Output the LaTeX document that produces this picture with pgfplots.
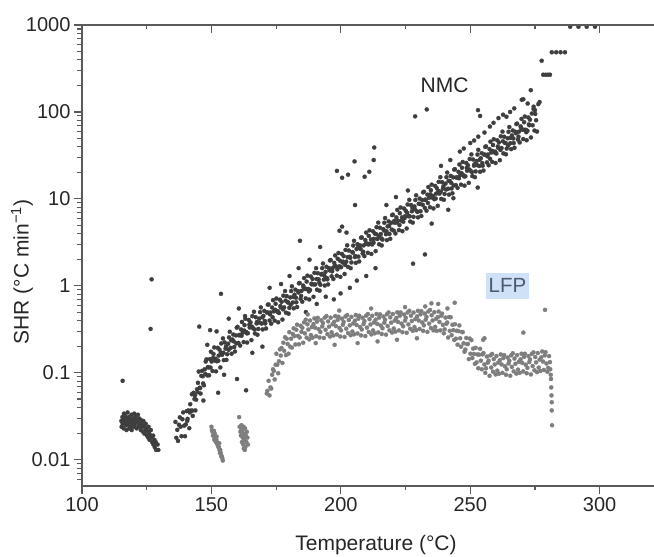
\documentclass[border=0pt]{standalone}
\usepackage{fontspec}
\setmainfont{Liberation Sans}
\usepackage{pgfplots}
\pgfplotsset{compat=1.18}
\definecolor{nmc}{HTML}{3E3E3E}
\definecolor{lfp}{HTML}{7E7E7E}
\definecolor{axisgray}{HTML}{5A5A5A}
\definecolor{txt}{HTML}{262626}
\definecolor{lfpbg}{HTML}{CFE1F7}
\definecolor{lfptxt}{HTML}{4C5A6E}
\begin{document}
\begin{tikzpicture}
\begin{axis}[
  scale only axis, width=572pt, height=461pt,
  xmin=100, xmax=321, ymin=0.005, ymax=1000, ymode=log,
  axis x line*=bottom, axis y line*=left,
  axis line style={draw=axisgray, line width=1.3pt},
  tick align=outside,
  tick style={axisgray, line width=1.1pt},
  major tick length=8pt, minor tick length=4.5pt,
  xtick={100,150,200,250,300}, xticklabels={100,150,200,250,300},
  minor xtick={125,175,225,275},
  ytick={0.01,0.1,1,10,100,1000}, yticklabels={0.01,0.1,1,10,100,1000},
  minor ytick={0.006,0.007,0.008,0.009,0.02,0.03,0.04,0.05,0.06,0.07,0.08,0.09,0.2,0.3,0.4,0.5,0.6,0.7,0.8,0.9,2,3,4,5,6,7,8,9,20,30,40,50,60,70,80,90,200,300,400,500,600,700,800,900},
  /pgf/number format/assume math mode=true,
  tick label style={font=\fontsize{20}{24}\selectfont, text=txt},
  xlabel={Temperature (°C)},
  ylabel={SHR (°C min\textsuperscript{−1})},
  label style={font=\fontsize{21}{25}\selectfont, text=txt},
  xlabel style={at={(axis description cs:0,0)}, anchor=center, xshift=294pt, yshift=-59pt},
  ylabel style={at={(axis description cs:0,0.5)}, anchor=center, xshift=-16.5pt, yshift=60pt},
  clip=true,
]
\coordinate (bl) at (rel axis cs:0,0);
\coordinate (tr) at (rel axis cs:1,1);
% NMC
\addplot[only marks, mark=*, mark size=2.1pt, color=nmc, mark options={line width=0.2pt}] coordinates {
(115.2,0.028) (115.3,0.024) (115.6,0.031) (115.7,0.026) (116.0,0.029) (116.1,0.023) (116.2,0.034) (116.5,0.027) (116.6,0.032) (117.0,0.025) (117.1,0.030) (117.2,0.022) (117.5,0.028) (117.6,0.035) (118.0,0.026) (118.1,0.031) (118.2,0.023) (118.5,0.029) (118.6,0.024) (119.0,0.027) (119.1,0.033) (119.2,0.022) (119.5,0.030) (119.6,0.025) (120.0,0.028) (120.1,0.024) (120.2,0.034) (120.5,0.026) (120.6,0.031) (121.0,0.029) (121.1,0.023) (121.5,0.027) (121.6,0.033) (121.7,0.024) (122.0,0.030) (122.1,0.025) (122.5,0.026) (122.6,0.029) (122.7,0.022) (123.0,0.027) (123.1,0.024) (123.5,0.025) (123.6,0.021) (123.7,0.028) (124.0,0.024) (124.1,0.020) (124.5,0.022) (124.6,0.026) (125.0,0.023) (125.1,0.019) (125.5,0.021) (125.6,0.018) (125.7,0.024) (126.0,0.020) (126.1,0.017) (126.5,0.019) (126.6,0.022) (127.0,0.018) (127.1,0.016) (127.5,0.019) (127.6,0.015) (128.0,0.017) (128.1,0.014) (128.5,0.016) (128.6,0.013) (129.2,0.015) (129.5,0.013)
(136.1,0.0273) (136.45,0.0179) (136.8,0.0221)
(137.1,0.0165) (137.45,0.0253) (137.8,0.0308)
(138.1,0.024) (138.45,0.0187) (138.8,0.0293)
(139.1,0.0351) (139.45,0.0247) (139.8,0.0187)
(140.1,0.0255) (140.45,0.0363) (140.8,0.0296)
(141.1,0.037) (141.45,0.0231) (141.8,0.0436)
(142.1,0.0368) (142.45,0.0568) (142.8,0.032)
(143.1,0.059) (143.45,0.050) (143.8,0.037)
(144.1,0.0492) (144.45,0.0648) (144.8,0.0768)
(145.1,0.1035) (145.45,0.0675) (145.8,0.0578)
(146.1,0.0924) (146.45,0.1056) (146.8,0.0757)
(147.1,0.072) (147.45,0.110) (147.8,0.135)
(148.1,0.143) (148.45,0.0935) (148.8,0.1155)
(149.1,0.0938) (149.45,0.144) (149.8,0.175)
(150.1,0.135) (150.45,0.105) (150.8,0.165)
(151.1,0.196) (151.45,0.138) (151.8,0.104)
(152.1,0.136) (152.45,0.194) (152.8,0.158)
(153.1,0.185) (153.45,0.1155) (153.8,0.218)
(154.1,0.161) (154.45,0.249) (154.8,0.14)
(155.1,0.224) (155.45,0.19) (155.8,0.141)
(156.1,0.164) (156.45,0.216) (156.8,0.256)
(157.1,0.297) (157.45,0.194) (157.8,0.166)
(158.1,0.242) (158.45,0.276) (158.8,0.198)
(159.1,0.176) (159.45,0.27) (159.8,0.331)
(160.1,0.338) (160.45,0.221) (160.8,0.273)
(161.1,0.206) (161.45,0.316) (161.8,0.385)
(162.1,0.29) (162.45,0.226) (162.8,0.354)
(163.1,0.419) (163.45,0.295) (163.8,0.223)
(164.1,0.286) (164.45,0.406) (164.8,0.332)
(165.1,0.381) (165.45,0.238) (165.8,0.449)
(166.1,0.327) (166.45,0.504) (166.8,0.284)
(167.1,0.437) (167.45,0.37) (167.8,0.274)
(168.1,0.32) (168.45,0.421) (168.8,0.499)
(169.1,0.566) (169.45,0.369) (169.8,0.316)
(170.1,0.452) (170.45,0.516) (170.8,0.370)
(171.1,0.324) (171.45,0.495) (171.8,0.608)
(172.1,0.611) (172.45,0.40) (172.8,0.494)
(173.1,0.368) (173.45,0.564) (173.8,0.686)
(174.1,0.51) (174.45,0.398) (174.8,0.622)
(175.1,0.716) (175.45,0.504) (175.8,0.382)
(176.1,0.488) (176.45,0.694) (176.8,0.566)
(177.1,0.655) (177.45,0.41) (177.8,0.772)
(178.1,0.566) (178.45,0.873) (178.8,0.492)
(179.1,0.763) (179.45,0.647) (179.8,0.479)
(180.1,0.559) (180.45,0.737) (180.8,0.873)
(181.1,0.989) (181.45,0.645) (181.8,0.552)
(182.1,0.792) (182.45,0.905) (182.8,0.648)
(183.1,0.571) (183.45,0.872) (183.8,1.07)
(184.1,1.08) (184.45,0.709) (184.8,0.876)
(185.1,0.658) (185.45,1.01) (185.8,1.23)
(186.1,0.922) (186.45,0.719) (186.8,1.12)
(187.1,1.31) (187.45,0.922) (187.8,0.698)
(188.1,0.898) (188.45,1.28) (188.8,1.04)
(189.1,1.20) (189.45,0.749) (189.8,1.41)
(190.1,1.04) (190.45,1.60) (190.8,0.904)
(191.1,1.40) (191.45,1.19) (191.8,0.881)
(192.1,1.03) (192.45,1.35) (192.8,1.60)
(193.1,1.81) (193.45,1.18) (193.8,1.01)
(194.1,1.45) (194.45,1.66) (194.8,1.19)
(195.1,1.04) (195.45,1.60) (195.8,1.96)
(196.1,1.98) (196.45,1.29) (196.8,1.60)
(197.1,1.20) (197.45,1.84) (197.8,2.24)
(198.1,1.68) (198.45,1.31) (198.8,2.05)
(199.1,2.39) (199.45,1.68) (199.8,1.27)
(200.1,1.64) (200.45,2.33) (200.8,1.90)
(201.1,2.20) (201.45,1.37) (201.8,2.59)
(202.1,1.90) (202.45,2.93) (202.8,1.65)
(203.1,2.55) (203.45,2.16) (203.8,1.60)
(204.1,1.86) (204.45,2.45) (204.8,2.91)
(205.1,3.30) (205.45,2.15) (205.8,1.84)
(206.1,2.65) (206.45,3.02) (206.8,2.17)
(207.1,1.91) (207.45,2.92) (207.8,3.58)
(208.1,3.61) (208.45,2.36) (208.8,2.92)
(209.1,2.20) (209.45,3.37) (209.8,4.10)
(210.1,3.08) (210.45,2.40) (210.8,3.76)
(211.1,4.36) (211.45,3.07) (211.8,2.33)
(212.1,2.99) (212.45,4.25) (212.8,3.47)
(213.1,4.01) (213.45,2.51) (213.8,4.73)
(214.1,3.46) (214.45,5.34) (214.8,3.01)
(215.1,4.66) (215.45,3.95) (215.8,2.92)
(216.1,3.41) (216.45,4.49) (216.8,5.32)
(217.1,6.03) (217.45,3.93) (217.8,3.36)
(218.1,4.83) (218.45,5.52) (218.8,3.96)
(219.1,3.48) (219.45,5.31) (219.8,6.52)
(220.1,6.60) (220.45,4.32) (220.8,5.33)
(221.1,4.01) (221.45,6.14) (221.8,7.48)
(222.1,5.62) (222.45,4.38) (222.8,6.86)
(223.1,7.98) (223.45,5.61) (223.8,4.26)
(224.1,5.46) (224.45,7.76) (224.8,6.33)
(225.1,7.31) (225.45,4.57) (225.8,8.62)
(226.1,6.32) (226.45,9.76) (226.8,5.50)
(227.1,8.52) (227.45,7.22) (227.8,5.34)
(228.1,6.22) (228.45,8.20) (228.8,9.72)
(229.1,11.0) (229.45,7.18) (229.8,6.14)
(230.1,8.81) (230.45,10.1) (230.8,7.22)
(231.1,6.36) (231.45,9.71) (231.8,11.9)
(232.1,12.1) (232.45,7.89) (232.8,9.74)
(233.1,7.32) (233.45,11.2) (233.8,13.7)
(234.1,10.3) (234.45,8.03) (234.8,12.6)
(235.1,14.6) (235.45,10.3) (235.8,7.78)
(236.1,9.94) (236.45,14.1) (236.8,11.5)
(237.1,13.3) (237.45,8.33) (237.8,15.7)
(238.1,11.5) (238.45,17.8) (238.8,10.0)
(239.1,15.6) (239.45,13.2) (239.8,9.77)
(240.1,11.4) (240.45,15.0) (240.8,17.8)
(241.1,20.1) (241.45,13.1) (241.8,11.2)
(242.1,16.1) (242.45,18.4) (242.8,13.2)
(243.1,11.6) (243.45,17.7) (243.8,21.7)
(244.1,22.0) (244.45,14.4) (244.8,17.7)
(245.1,13.4) (245.45,20.5) (245.8,24.9)
(246.1,18.7) (246.45,14.6) (246.8,22.8)
(247.1,26.6) (247.45,18.7) (247.8,14.2)
(248.1,18.2) (248.45,25.9) (248.8,21.1)
(249.1,24.4) (249.45,15.3) (249.8,28.8)
(250.1,21.1) (250.45,32.5) (250.8,18.3)
(251.1,28.4) (251.45,24.1) (251.8,17.8)
(252.1,20.7) (252.45,27.3) (252.8,32.4)
(253.1,36.7) (253.45,23.9) (253.8,20.5)
(254.1,29.4) (254.45,33.6) (254.8,24.1)
(255.1,21.2) (255.45,32.3) (255.8,39.7)
(256.1,40.2) (256.45,26.3) (256.8,32.4)
(257.1,24.4) (257.45,37.4) (257.8,45.5)
(258.1,34.2) (258.45,26.7) (258.8,41.7)
(259.1,48.6) (259.45,34.2) (259.8,25.9)
(260.1,33.3) (260.45,47.3) (260.8,38.6)
(261.1,44.6) (261.45,27.9) (261.8,52.5)
(262.1,38.5) (262.45,59.4) (262.8,33.4)
(263.1,51.9) (263.45,44.0) (263.8,32.6)
(264.1,37.9) (264.45,49.9) (264.8,59.1)
(265.1,67.1) (265.45,43.7) (265.8,37.4)
(266.1,53.7) (266.45,61.3) (266.8,43.9)
(267.1,38.7) (267.45,59.2) (267.8,72.6)
(268.1,73.5) (268.45,48.0) (268.8,59.3)
(269.1,44.6) (269.45,68.3) (269.8,83.2)
(270.1,62.5) (270.45,48.8) (270.8,76.3)
(271.1,88.7) (271.45,62.4) (271.8,47.3)
(272.1,60.8) (272.45,86.4) (272.8,70.5)
(273.1,81.4) (273.45,50.9) (273.8,96.0)
(274.1,70.3) (274.45,108) (274.8,61.1)
(275.1,94.9) (275.45,80.4) (275.8,59.5)
(140.65,0.0281) (141.65,0.035) (142.65,0.0368) (143.65,0.055) (144.65,0.060) (145.65,0.0668) (146.65,0.0915) (147.65,0.097) (148.65,0.1166) (149.65,0.115)
(150.65,0.1485) (151.65,0.145) (152.65,0.138) (153.65,0.1716) (154.65,0.170) (155.65,0.201) (156.65,0.184) (157.65,0.2365) (158.65,0.23) (159.65,0.218)
(160.65,0.270) (161.65,0.267) (162.65,0.307) (163.65,0.285) (164.65,0.358) (165.65,0.34) (166.65,0.316) (167.65,0.385) (168.65,0.378) (169.65,0.435)
(170.65,0.396) (171.65,0.495) (172.65,0.47) (173.65,0.436) (174.65,0.530) (175.65,0.514) (176.65,0.588) (177.65,0.538) (178.65,0.677) (179.65,0.647)
(180.65,0.607) (181.65,0.746) (182.65,0.731) (183.65,0.841) (184.65,0.767) (185.65,0.965) (186.65,0.922) (187.65,0.863) (188.65,1.06) (189.65,1.04)
(190.65,1.20) (191.65,1.09) (192.65,1.375) (193.65,1.31) (194.65,1.23) (195.65,1.51) (196.65,1.47) (197.65,1.70) (198.65,1.55) (199.65,1.95)
(200.65,1.86) (201.65,1.74) (202.65,2.14) (203.65,2.10) (204.65,2.41) (205.65,2.20) (206.65,2.77) (207.65,2.65) (208.65,2.47) (209.65,3.05)
(210.65,2.99) (211.65,3.42) (212.65,3.13) (213.65,3.94) (214.65,3.76) (215.65,3.52) (216.65,4.33) (217.65,4.24) (218.65,4.88) (219.65,4.44)
(220.65,5.59) (221.65,5.34) (222.65,5.00) (223.65,6.15) (224.65,6.02) (225.65,6.92) (226.65,6.32) (227.65,7.94) (228.65,7.59) (229.65,7.10)
(230.65,8.73) (231.65,8.57) (232.65,9.84) (233.65,8.98) (234.65,11.3) (235.65,10.8) (236.65,10.1) (237.65,12.4) (238.65,12.1) (239.65,14.0)
(240.65,12.8) (241.65,16.1) (242.65,15.3) (243.65,14.3) (244.65,17.6) (245.65,17.3) (246.65,19.8) (247.65,18.1) (248.65,22.8) (249.65,21.8)
(250.65,20.4) (251.65,25.1) (252.65,24.5) (253.65,28.2) (254.65,25.8) (255.65,32.3) (256.65,30.9) (257.65,28.9) (258.65,35.6) (259.65,34.9)
(260.65,40.1) (261.65,36.6) (262.65,46.0) (263.65,44.0) (264.65,41.1) (265.65,50.5) (266.65,49.6) (267.65,57.0) (268.65,52.0) (269.65,65.3)
(270.65,62.5) (271.65,58.5) (272.65,71.9)
(186.5,0.50) (190.7,0.62) (194.2,0.75) (197.3,0.70) (199.9,0.82) (203.5,0.95) (206.2,1.15) (209.8,1.3) (213.4,1.6)
(172.5,0.95) (176.9,1.05) (180.2,1.3) (183.7,1.6) (187.9,2.0) (217.6,8.5) (221.3,10.5) (225.9,12.5) (238.7,24) (242.3,28)
(241.5,7.5) (252.9,13.5) (160.6,0.55) (156.7,0.42) (148.4,0.21) (146.9,0.048) (154.9,0.095) (165.8,0.17) (169.7,0.2)
(115.7,0.081) (126.9,1.19) (126.5,0.32) (153.7,0.81) (145.3,0.34) (149.5,0.31) (152.0,0.30) (163.4,0.063) (159.9,0.085) (152.6,0.059) (163.0,0.45)
(184.2,3.3) (192.0,2.8) (199.5,4.3) (200.5,4.8) (202.2,4.1) (205.5,8.5) (198.5,21) (200.5,17.5) (202.8,19) (205.3,27) (209.2,18) (211.0,20.5) (212.7,28) (212.9,39)
(228.7,89) (233.2,107) (227.9,1.8) (232.5,2.3) (235.1,5.2) (243.5,10.2)
(246.0,35) (247.5,38) (250.0,44) (251.5,47) (253.1,52) (253.0,105) (253.8,90) (255.5,58) (257.6,68) (259.0,75) (260.9,85) (262.7,93) (264.0,88) (265.4,100) (267.0,110)
(269.9,138) (270.5,140) (273.4,178) (272.2,125) (275.0,105) (276.3,123) (276.8,130) (274.5,115) (277.6,388)
(278.2,268) (279.1,268) (280.0,268) (280.8,268) (281.5,486) (283.2,486) (284.9,486) (286.6,486) (288.6,955) (291.8,955) (295.0,955) (298.2,955)
};
% LFP
\addplot[only marks, mark=*, mark size=2.1pt, color=lfp, mark options={line width=0.2pt}] coordinates {
(150.0,0.024) (150.2,0.022) (150.4,0.021) (150.6,0.019) (150.9,0.019) (151.1,0.017) (151.3,0.020) (151.5,0.018) (151.7,0.016) (151.9,0.017) (152.1,0.016) (152.3,0.015) (152.5,0.015) (152.7,0.014) (152.9,0.014) (153.1,0.013) (153.3,0.012) (153.4,0.013) (153.6,0.012) (153.8,0.011) (154.0,0.011) (154.2,0.0105) (154.4,0.0098) (153.0,0.0155) (152.0,0.0185) (151.0,0.0215)
(160.7,0.031) (160.9,0.024) (161.2,0.021) (161.4,0.019) (161.6,0.025) (161.8,0.016) (162.0,0.022) (162.1,0.018) (162.3,0.015) (162.4,0.024) (162.6,0.020) (162.7,0.017) (162.9,0.013) (163.0,0.023) (163.1,0.014) (163.3,0.019) (163.5,0.016) (163.7,0.021) (163.9,0.018) (164.1,0.015) (162.5,0.0135) (161.5,0.022)
(171.4,0.058) (171.6,0.062)
(172.1,0.081) (172.45,0.055) (172.8,0.068)
(173.1,0.066) (173.45,0.095) (173.8,0.11)
(174.1,0.105) (174.45,0.084) (174.8,0.124)
(175.1,0.166) (175.45,0.124) (175.8,0.099)
(176.1,0.136) (176.45,0.186) (176.8,0.158)
(177.1,0.193) (177.45,0.13) (177.8,0.222)
(178.1,0.179) (178.45,0.257) (178.8,0.16)
(179.1,0.247) (179.45,0.215) (179.8,0.166)
(180.1,0.294) (180.45,0.20) (180.8,0.247)
(181.1,0.195) (181.45,0.28) (181.8,0.325)
(182.1,0.265) (182.45,0.212) (182.8,0.313)
(183.1,0.358) (183.45,0.266) (183.8,0.213)
(184.1,0.255) (184.45,0.348) (184.8,0.296)
(185.1,0.33) (185.45,0.222) (185.8,0.381)
(186.1,0.285) (186.45,0.409) (186.8,0.254)
(187.1,0.362) (187.45,0.315) (187.8,0.243)
(188.1,0.40) (188.45,0.272) (188.8,0.336)
(189.1,0.254) (189.45,0.364) (189.8,0.423)
(190.1,0.33) (190.45,0.264) (190.8,0.389)
(191.1,0.429) (191.45,0.318) (191.8,0.255)
(192.1,0.295) (192.45,0.402) (192.8,0.342)
(193.1,0.374) (193.45,0.252) (193.8,0.432)
(194.1,0.313) (194.45,0.449) (194.8,0.279)
(195.1,0.391) (195.45,0.34) (195.8,0.262)
(196.1,0.431) (196.45,0.293) (196.8,0.362)
(197.1,0.269) (197.45,0.386) (197.8,0.449)
(198.1,0.345) (198.45,0.276) (198.8,0.407)
(199.1,0.442) (199.45,0.328) (199.8,0.262)
(200.1,0.308) (200.45,0.42) (200.8,0.357)
(201.1,0.385) (201.45,0.259) (201.8,0.445)
(202.1,0.322) (202.45,0.462) (202.8,0.287)
(203.1,0.405) (203.45,0.352) (203.8,0.271)
(204.1,0.44) (204.45,0.299) (204.8,0.37)
(205.1,0.277) (205.45,0.398) (205.8,0.462)
(206.1,0.355) (206.45,0.284) (206.8,0.419)
(207.1,0.454) (207.45,0.337) (207.8,0.27)
(208.1,0.315) (208.45,0.43) (208.8,0.365)
(209.1,0.394) (209.45,0.265) (209.8,0.455)
(210.1,0.331) (210.45,0.475) (210.8,0.295)
(211.1,0.414) (211.45,0.36) (211.8,0.277)
(212.1,0.453) (212.45,0.308) (212.8,0.38)
(213.1,0.285) (213.45,0.409) (213.8,0.475)
(214.1,0.365) (214.45,0.292) (214.8,0.431)
(215.1,0.471) (215.45,0.35) (215.8,0.28)
(216.1,0.326) (216.45,0.444) (216.8,0.377)
(217.1,0.409) (217.45,0.275) (217.8,0.472)
(218.1,0.345) (218.45,0.495) (218.8,0.308)
(219.1,0.435) (219.45,0.378) (219.8,0.291)
(220.1,0.475) (220.45,0.323) (220.8,0.399)
(221.1,0.298) (221.45,0.428) (221.8,0.497)
(222.1,0.385) (222.45,0.308) (222.8,0.454)
(223.1,0.495) (223.45,0.368) (223.8,0.294)
(224.1,0.343) (224.45,0.468) (224.8,0.398)
(225.1,0.429) (225.45,0.289) (225.8,0.495)
(226.1,0.361) (226.45,0.517) (226.8,0.321)
(227.1,0.454) (227.45,0.395) (227.8,0.304)
(228.1,0.494) (228.45,0.336) (228.8,0.415)
(229.1,0.31) (229.45,0.446) (229.8,0.517)
(230.1,0.40) (230.45,0.32) (230.8,0.472)
(231.1,0.512) (231.45,0.38) (231.8,0.304)
(232.1,0.352) (232.45,0.48) (232.8,0.408)
(233.1,0.44) (233.45,0.296) (233.8,0.508)
(234.1,0.368) (234.45,0.528) (234.8,0.328)
(235.1,0.46) (235.45,0.40) (235.8,0.308)
(236.1,0.498) (236.45,0.338) (236.8,0.418)
(237.1,0.304) (237.45,0.437) (237.8,0.507)
(238.1,0.385) (238.45,0.308) (238.8,0.454)
(239.1,0.48) (239.45,0.356) (239.8,0.285)
(240.1,0.317) (240.45,0.432) (240.8,0.367)
(241.1,0.38) (241.45,0.255) (241.8,0.438)
(242.1,0.304) (242.45,0.436) (242.8,0.271)
(243.1,0.357) (243.45,0.31) (243.8,0.239)
(244.1,0.363) (244.45,0.247) (244.8,0.305)
(245.1,0.211) (245.45,0.302) (245.8,0.351)
(246.1,0.25) (246.45,0.20) (246.8,0.295)
(247.1,0.294) (247.45,0.219) (247.8,0.175)
(248.1,0.185) (248.45,0.252) (248.8,0.214)
(249.1,0.215) (249.45,0.144) (249.8,0.248)
(250.1,0.166) (250.45,0.238) (250.8,0.148)
(251.1,0.19) (251.45,0.165) (251.8,0.127)
(252.1,0.194) (252.45,0.132) (252.8,0.163)
(253.1,0.113) (253.45,0.162) (253.8,0.189)
(254.1,0.138) (254.45,0.11) (254.8,0.163)
(255.1,0.169) (255.45,0.125) (255.8,0.10)
(256.1,0.113) (256.45,0.154) (256.8,0.131)
(257.1,0.138) (257.45,0.0925) (257.8,0.159)
(258.1,0.115) (258.45,0.165) (258.8,0.103)
(259.1,0.144) (259.45,0.125) (259.8,0.096)
(260.1,0.156) (260.45,0.106) (260.8,0.131)
(261.1,0.0975) (261.45,0.14) (261.8,0.163)
(262.1,0.125) (262.45,0.10) (262.8,0.148)
(263.1,0.16) (263.45,0.119) (263.8,0.095)
(264.1,0.11) (264.45,0.15) (264.8,0.128)
(265.1,0.138) (265.45,0.0925) (265.8,0.159)
(266.1,0.117) (266.45,0.168) (266.8,0.104)
(267.1,0.146) (267.45,0.127) (267.8,0.098)
(268.1,0.16) (268.45,0.109) (268.8,0.134)
(269.1,0.10) (269.45,0.143) (269.8,0.166)
(270.1,0.13) (270.45,0.104) (270.8,0.153)
(271.1,0.166) (271.45,0.124) (271.8,0.099)
(272.1,0.114) (272.45,0.156) (272.8,0.133)
(273.1,0.143) (273.45,0.096) (273.8,0.165)
(274.1,0.12) (274.45,0.172) (274.8,0.107)
(275.1,0.152) (275.45,0.132) (275.8,0.102)
(276.1,0.169) (276.45,0.115) (276.8,0.142)
(277.1,0.105) (277.45,0.151) (277.8,0.176)
(278.1,0.135) (278.45,0.108) (278.8,0.159)
(279.1,0.173) (279.45,0.128) (279.8,0.103)
(280.1,0.114) (280.45,0.156) (280.8,0.133)
(280.9,0.11) (281.1,0.095) (281.2,0.085) (281.3,0.068) (281.4,0.055) (281.5,0.046) (281.5,0.037) (281.6,0.025)
(278.9,0.53) (270.5,0.29) (244.0,0.64) (235.0,0.63) (237.6,0.62) (255.0,0.24) (255.5,0.25)
(190.3,0.22) (197.6,0.21) (206.5,0.22) (214.2,0.23) (221.7,0.24) (229.4,0.25) (187.2,0.47) (199.4,0.52) (211.7,0.55) (224.8,0.57) (232.6,0.58) (241.2,0.55)
};
\node[font=\fontsize{21}{25}\selectfont, text=txt] at (axis cs:240.1,202) {NMC};
\node[font=\fontsize{20.5}{24}\selectfont, text=lfptxt, fill=lfpbg, inner xsep=3pt, inner ysep=6pt] at (axis cs:264.4,1.0) {LFP};
\end{axis}
\begin{axis}[
  scale only axis, width=572pt, height=461pt,
  xmin=100, xmax=321, ymin=0, ymax=1,
  axis x line*=top, axis y line=none,
  axis line style={draw=axisgray, line width=1.3pt},
  tick align=inside,
  tick style={axisgray, line width=1.1pt},
  major tick length=8pt, minor tick length=4.5pt,
  xtick={100,150,200,250,300}, xticklabels={},
  minor xtick={125,175,225,275},
  ytick=\empty,
]
\end{axis}
\pgfresetboundingbox
\path[use as bounding box] ([shift={(-82pt,-70pt)}]bl) rectangle ([shift={(0pt,25pt)}]tr);
\end{tikzpicture}
\end{document}
